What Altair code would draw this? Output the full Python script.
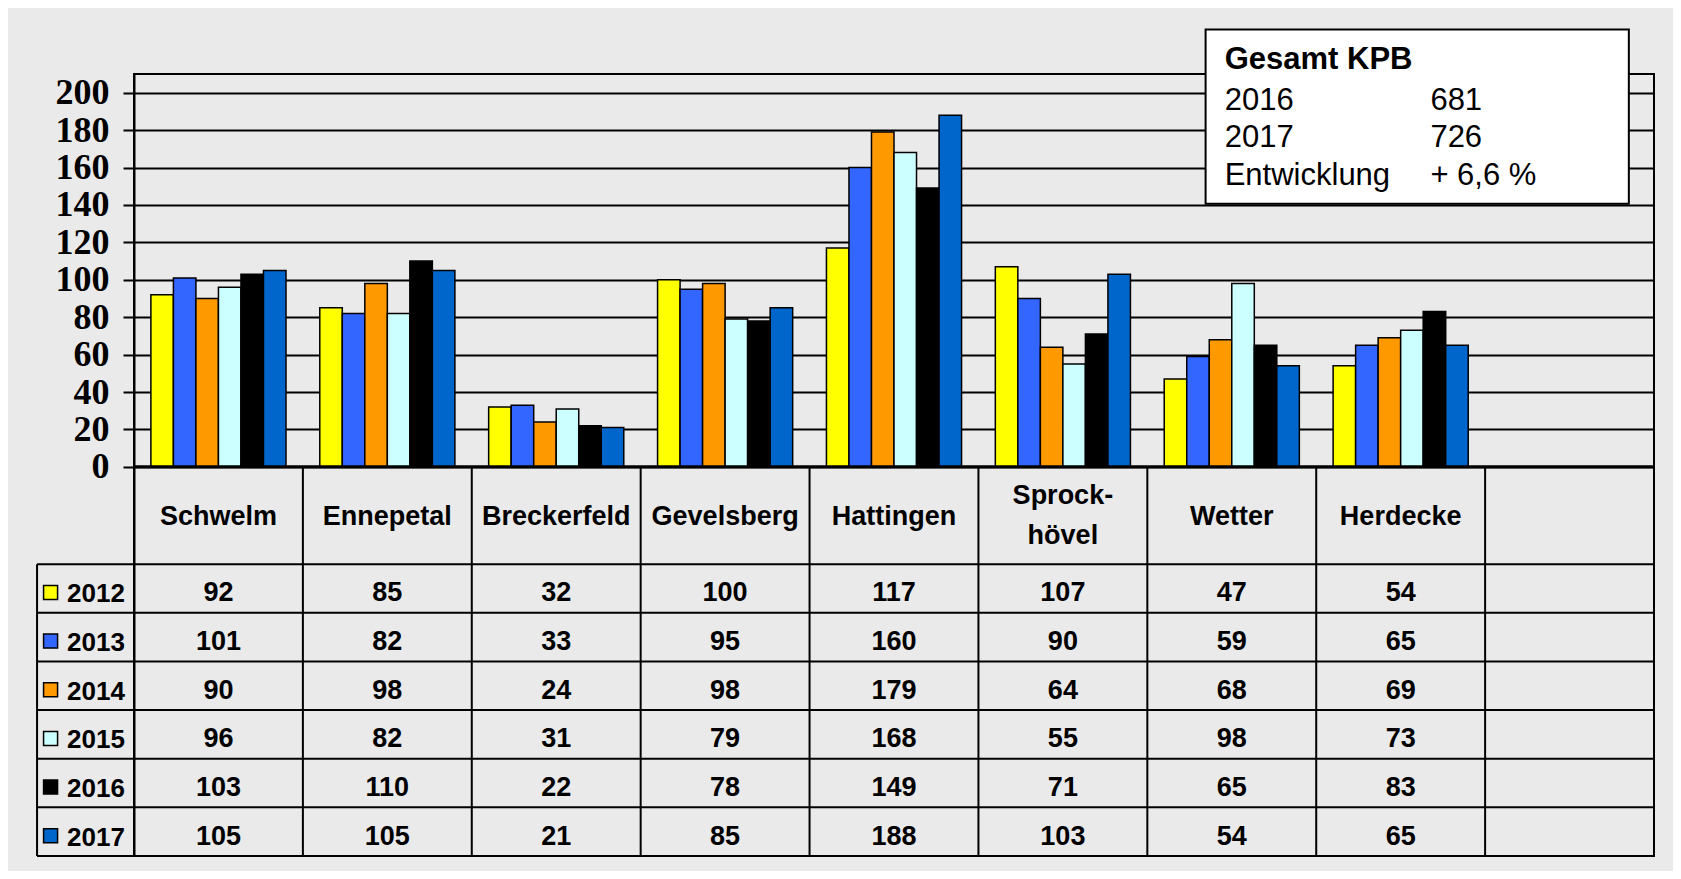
import altair as alt
import pandas as pd

# ---------------- data ----------------
cities = ["Schwelm", "Ennepetal", "Breckerfeld", "Gevelsberg", "Hattingen",
          "Sprock-\nhövel", "Wetter", "Herdecke"]
years = ["2012", "2013", "2014", "2015", "2016", "2017"]
v2012 = [92, 85, 32, 100, 117, 107, 47, 54]
v2013 = [101, 82, 33, 95, 160, 90, 59, 65]
v2014 = [90, 98, 24, 98, 179, 64, 68, 69]
v2015 = [96, 82, 31, 79, 168, 55, 98, 73]
v2016 = [103, 110, 22, 78, 149, 71, 65, 83]
v2017 = [105, 105, 21, 85, 188, 103, 54, 65]
colors = ["#FFFF00", "#3366FF", "#FF9900", "#CCFFFF", "#000000", "#0066CC"]
y_ticks = [0, 20, 40, 60, 80, 100, 120, 140, 160, 180, 200]

box_title = "Gesamt KPB"
box_labels = ["2016", "2017", "Entwicklung"]
box_values = ["681", "726", "+ 6,6 %"]

# ---------------- layout constants (in scale units) ----------------
N_COLS = 9            # 8 cities + one empty column
Y_MAX = 210
HEADER = 52           # header row height (y units)
ROW = 26              # data row height (y units)
Y_MIN = -(HEADER + ROW * len(years))
LEG_W = 0.574         # legend column width (column units)
LINE_SHIFT = 10.7     # half a header line height (y units)

series = [v2012, v2013, v2014, v2015, v2016, v2017]
rows = []
for yi, (yr, vals) in enumerate(zip(years, series)):
    for ci, c in enumerate(cities):
        rows.append({"city": c, "year": yr, "value": vals[ci], "row": yi})
df = pd.DataFrame(rows)

legend_df = pd.DataFrame({"year": years, "row": list(range(len(years)))})
header_df = pd.DataFrame({"city": cities})

hlines = pd.DataFrame({"k": list(range(len(years) + 1))})
vlines = pd.DataFrame({"c": list(range(1, N_COLS))})

box_df = pd.DataFrame({"x": [6.345], "x2": [8.851], "y": [233.8], "y2": [140.7]})
box_title_df = pd.DataFrame({"label": [box_title], "ypos": [212.5]})
box_rows_df = pd.DataFrame({
    "label": box_labels,
    "value": box_values,
    "ypos": [191.0, 171.0, 150.6],
})

# ---------------- scales ----------------
yscale = alt.Scale(domain=[Y_MIN, Y_MAX], nice=False, zero=False)
xband = alt.X("city:N", scale=alt.Scale(domain=cities + [" "], paddingInner=0.2,
                                        paddingOuter=0.1), axis=None)
xq_scale = alt.Scale(domain=[0, N_COLS], nice=False, zero=False)

yaxis = alt.Axis(values=y_ticks, grid=True, gridColor="black", gridWidth=2,
                 gridOpacity=1, domain=True, domainColor="black", domainWidth=2,
                 ticks=True, tickColor="black", tickWidth=2, tickSize=11,
                 labels=True, labelFont="Liberation Serif",
                 labelFontSize=36, labelFontWeight="bold", labelColor="black",
                 labelPadding=14, title=None)


def Y(field):
    return alt.Y(field, scale=yscale, axis=yaxis)


TABLE_FONT = "Liberation Sans"

bars = alt.Chart(df).mark_bar(stroke="black", strokeWidth=1.5).encode(
    x=xband,
    xOffset=alt.XOffset("year:N", scale=alt.Scale(domain=years, paddingInner=0,
                                                  paddingOuter=0)),
    y=Y("value:Q"),
    color=alt.Color("year:N", scale=alt.Scale(domain=years, range=colors),
                    legend=None),
)

zero_line = alt.Chart(pd.DataFrame({"v": [0]})).mark_rule(
    color="black", strokeWidth=3).transform_calculate(a="0", b=str(N_COLS)).encode(
    x=alt.X("a:Q", scale=xq_scale, axis=None),
    x2="b:Q",
    y=Y("v:Q"),
)

h_rules = alt.Chart(hlines).mark_rule(color="black", strokeWidth=2).transform_calculate(
    yy=f"-{HEADER} - {ROW} * datum.k", a=f"-{LEG_W}", b=str(N_COLS)
).encode(
    x=alt.X("a:Q", scale=xq_scale, axis=None),
    x2="b:Q",
    y=Y("yy:Q"),
)

v_rules = alt.Chart(vlines).mark_rule(color="black", strokeWidth=2).transform_calculate(
    top="0", bot=str(Y_MIN)
).encode(
    x=alt.X("c:Q", scale=xq_scale, axis=None),
    y=Y("top:Q"),
    y2="bot:Q",
)

left_rule = alt.Chart(pd.DataFrame({"c": [-LEG_W]})).mark_rule(
    color="black", strokeWidth=2).transform_calculate(
    top=f"-{HEADER}", bot=str(Y_MIN)
).encode(
    x=alt.X("c:Q", scale=xq_scale, axis=None),
    y=Y("top:Q"),
    y2="bot:Q",
)

header_text = alt.Chart(header_df).mark_text(
    font=TABLE_FONT, fontSize=27, fontWeight="bold", color="black",
    baseline="middle", lineBreak="\n", lineHeight=40, dy=1
).transform_calculate(
    yy=f"-{HEADER}/2 + (indexof(datum.city, '\\n') >= 0 ? {LINE_SHIFT} : 0)"
).encode(
    x=xband,
    y=Y("yy:Q"),
    text="city:N",
)

cell_text = alt.Chart(df).mark_text(
    font=TABLE_FONT, fontSize=27, fontWeight="bold", color="black",
    baseline="middle", dy=5
).transform_calculate(yy=f"-{HEADER} - {ROW} * (datum.row + 0.5)").encode(
    x=xband,
    y=Y("yy:Q"),
    text="value:Q",
)

leg_swatch = alt.Chart(legend_df).mark_square(
    size=196, opacity=1, stroke="black", strokeWidth=1.5, yOffset=4
).transform_calculate(
    yy=f"-{HEADER} - {ROW} * (datum.row + 0.5)", xx="-0.494"
).encode(
    x=alt.X("xx:Q", scale=xq_scale, axis=None),
    y=Y("yy:Q"),
    fill=alt.Fill("year:N", scale=alt.Scale(domain=years, range=colors), legend=None),
)

leg_text = alt.Chart(legend_df).mark_text(
    font=TABLE_FONT, fontSize=26, fontWeight="bold", color="black",
    baseline="middle", align="left", dy=6
).transform_calculate(
    yy=f"-{HEADER} - {ROW} * (datum.row + 0.5)", xx="-0.396"
).encode(
    x=alt.X("xx:Q", scale=xq_scale, axis=None),
    y=Y("yy:Q"),
    text="year:N",
)

box = alt.Chart(box_df).mark_rect(fill="white", stroke="black", strokeWidth=2).encode(
    x=alt.X("x:Q", scale=xq_scale, axis=None),
    x2="x2:Q",
    y=Y("y:Q"),
    y2="y2:Q",
)

box_head = alt.Chart(box_title_df).mark_text(
    font="Liberation Sans", fontSize=31, fontWeight="bold", color="black",
    align="left", baseline="alphabetic"
).transform_calculate(xx="6.458").encode(
    x=alt.X("xx:Q", scale=xq_scale, axis=None),
    y=Y("ypos:Q"),
    text="label:N",
)

box_lbl = alt.Chart(box_rows_df).mark_text(
    font="Liberation Sans", fontSize=31, color="black", align="left",
    baseline="alphabetic"
).transform_calculate(xx="6.458").encode(
    x=alt.X("xx:Q", scale=xq_scale, axis=None),
    y=Y("ypos:Q"),
    text="label:N",
)

box_val = alt.Chart(box_rows_df).mark_text(
    font="Liberation Sans", fontSize=31, color="black", align="left",
    baseline="alphabetic"
).transform_calculate(xx="7.676").encode(
    x=alt.X("xx:Q", scale=xq_scale, axis=None),
    y=Y("ypos:Q"),
    text="value:N",
)

chart = alt.layer(
    bars, zero_line, h_rules, v_rules, left_rule, header_text, cell_text,
    leg_swatch, leg_text, box, box_head, box_lbl, box_val
).resolve_scale(
    x="independent", fill="independent", color="independent"
).properties(
    width=1520, height=782,
    autosize=alt.AutoSizeParams(type="none"),
    padding={"left": 126, "top": 66, "right": 19, "bottom": 15},
    background="#EAEAEA",
).configure_view(
    stroke="black", strokeWidth=2
)

chart.save("out.html", embed_options={"renderer": "svg", "actions": False})
